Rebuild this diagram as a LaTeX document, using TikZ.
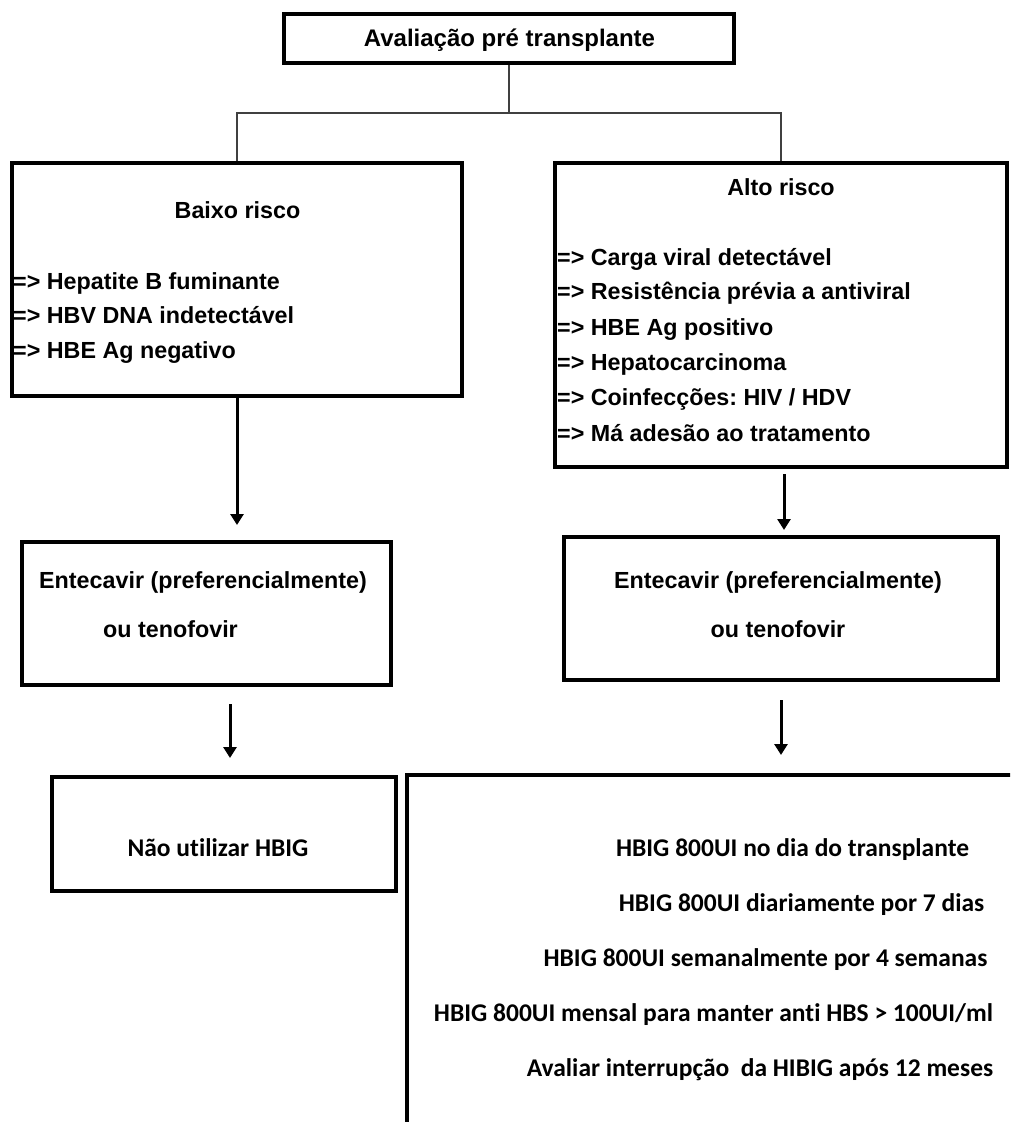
\documentclass[tikz,border=0pt]{standalone}
\usepackage{fontspec}
\setmainfont{Liberation Sans}
\newfontfamily\calib[Ligatures=NoCommon]{Carlito}
\usetikzlibrary{arrows.meta}
\frenchspacing
\tikzset{
  box/.style={draw=black, line width=4pt, rectangle, inner sep=0pt},
  conn/.style={draw=black!75, line width=1.8pt},
  arr/.style={draw=black, line width=3pt, -{Triangle[width=13pt,length=11pt]}},
  ar/.style={inner sep=0pt, font=\bfseries\fontsize{23.3}{28}\selectfont},
  art/.style={inner sep=0pt, font=\bfseries\fontsize{24}{28}\selectfont},
  cb/.style={inner sep=0pt, font=\calib\bfseries\fontsize{25.5}{30}\selectfont},
}
\begin{document}
\begin{tikzpicture}[x=1pt,y=-1pt]
\path[use as bounding box] (0,0) rectangle (1010,1122);
\clip (0,0) rectangle (1010,1122);
\fill[white] (0,0) rectangle (1010,1122);

% boxes
\node[box, minimum width=450pt, minimum height=49pt] (top) at (509,38.5) {};
\node[box, minimum width=450pt, minimum height=233pt] (baixo) at (237,279.5) {};
\node[box, minimum width=452pt, minimum height=304pt] (alto) at (781,315) {};
\node[box, minimum width=369pt, minimum height=143pt] (ent1) at (206.5,613.5) {};
\node[box, minimum width=434pt, minimum height=143pt] (ent2) at (781,608.5) {};
\node[box, minimum width=344pt, minimum height=114pt] (nao) at (224,834) {};
\node[box, minimum width=613pt, minimum height=360pt] (hbig) at (713.5,955) {};

% texts
\node[art, anchor=base] (ttop) at (509.5,46) {Avaliação pré transplante};
\node[ar, anchor=base] (tbaixo) at (237.5,218) {Baixo risco};
\node[ar, anchor=base west] (b1) at (13,289) {=> Hepatite B fuminante};
\node[ar, anchor=base west] (b2) at (13,323.5) {=> HBV DNA indetectável};
\node[ar, anchor=base west] (b3) at (13,358) {=> HBE Ag negativo};

\node[ar, anchor=base] (talto) at (781,195) {Alto risco};
\node[ar, anchor=base west] (r1) at (557,265) {=> Carga viral detectável};
\node[ar, anchor=base west] (r2) at (557,299.5) {=> Resistência prévia a antiviral};
\node[ar, anchor=base west] (r3) at (557,335) {=> HBE Ag positivo};
\node[ar, anchor=base west] (r4) at (557,370) {=> Hepatocarcinoma};
\node[ar, anchor=base west] (r5) at (557,405) {=> Coinfecções: HIV / HDV};
\node[ar, anchor=base west] (r6) at (557,441) {=> Má adesão ao tratamento};

\node[ar, anchor=base west] (e1a) at (39,588) {Entecavir (preferencialmente)};
\node[ar, anchor=base west] (e1b) at (103,637) {ou tenofovir};
\node[ar, anchor=base] (e2a) at (778,588) {Entecavir (preferencialmente)};
\node[ar, anchor=base] (e2b) at (778,637) {ou tenofovir};

\node[cb, anchor=base] (tnao) at (218,856) {Não utilizar HBIG};
\node[cb, anchor=base] (h1) at (792.5,856) {HBIG 800UI no dia do transplante};
\node[cb, anchor=base] (h2) at (801.5,911) {HBIG 800UI diariamente por 7 dias};
\node[cb, anchor=base] (h3) at (765.5,966) {HBIG 800UI semanalmente por 4 semanas};
\node[cb, anchor=base] (h4) at (713.5,1021) {HBIG 800UI mensal para manter anti HBS > 100UI/ml};
\node[cb, anchor=base] (h5) at (760,1076) {Avaliar interrupção\ \ da HIBIG após 12 meses};

% connectors
\coordinate (split) at (509,113);
\draw[conn] (top.south) -- (split);
\draw[conn] (baixo.north) |- (split) -| (alto.north);

\coordinate (a1end) at (237,525);
\coordinate (a2end) at (784,530);
\coordinate (a3end) at (230,758);
\coordinate (a4end) at (781,755);
\draw[arr] (baixo.south) -- (a1end);
\draw[arr] ([xshift=3pt,yshift=-5pt]alto.south) -- (a2end);
\draw[arr] ([xshift=23.5pt,yshift=-17pt]ent1.south) -- (a3end);
\draw[arr] ([yshift=-18pt]ent2.south) -- (a4end);
\end{tikzpicture}
\end{document}
